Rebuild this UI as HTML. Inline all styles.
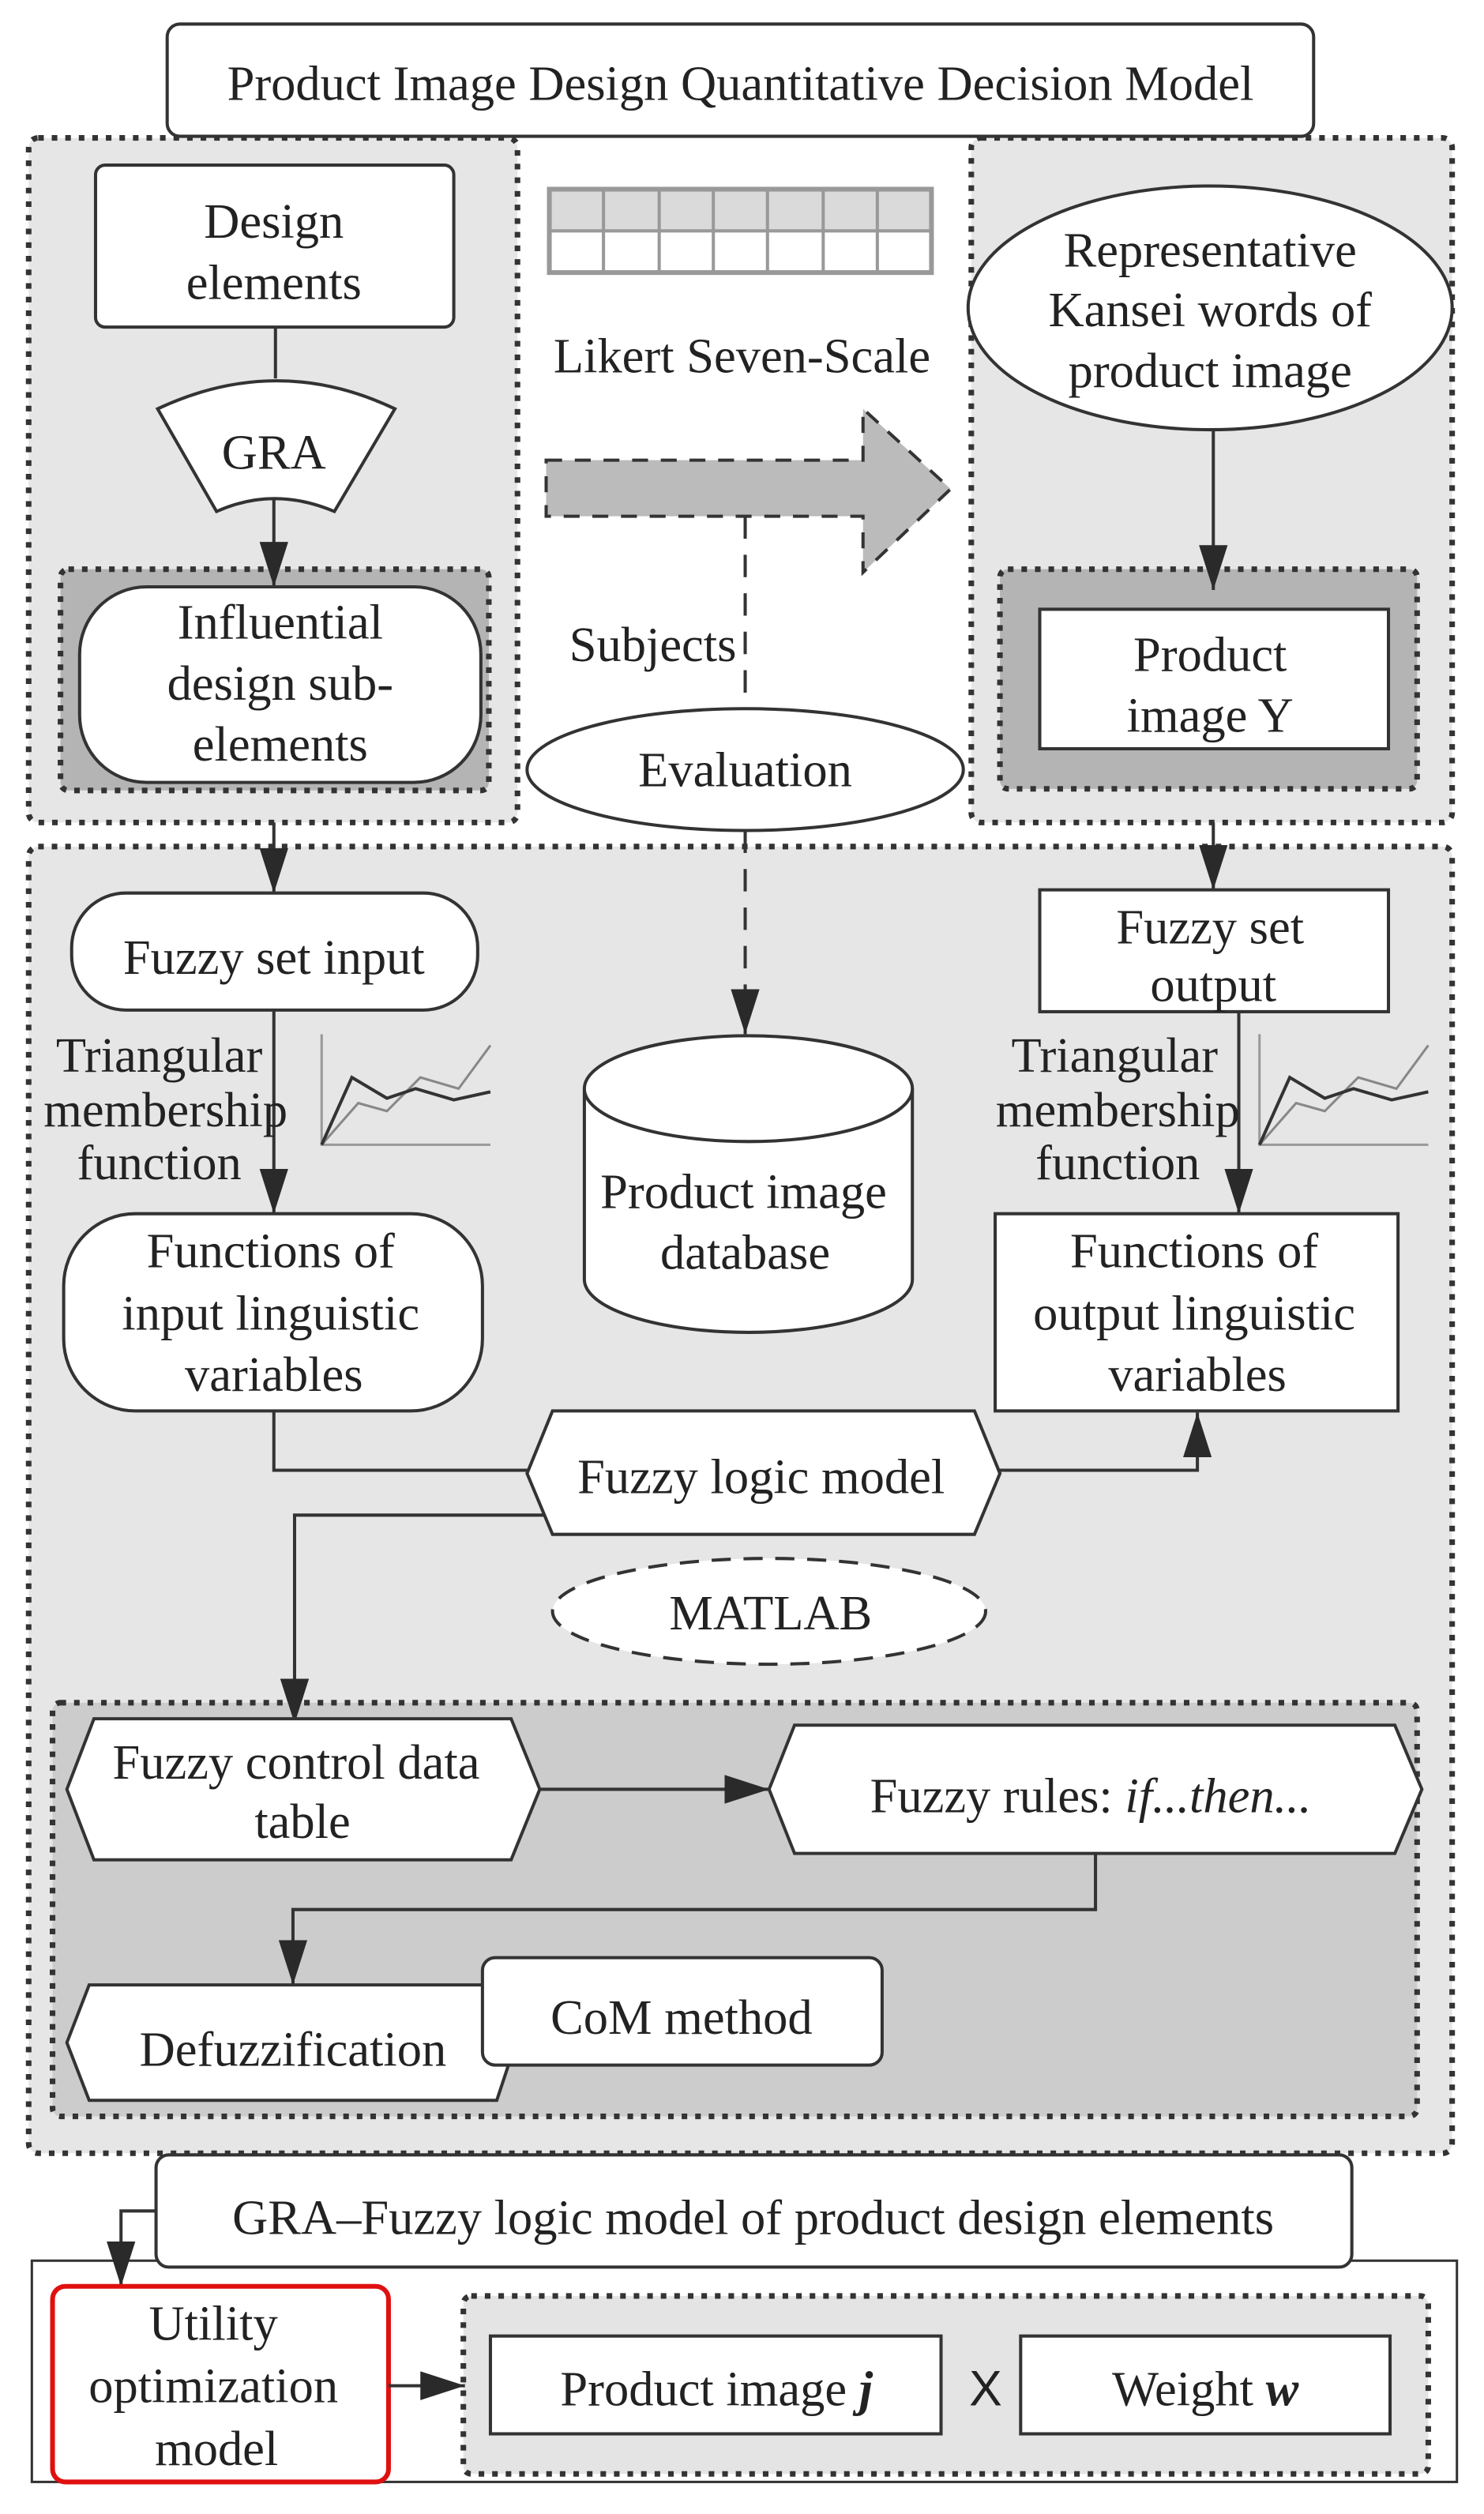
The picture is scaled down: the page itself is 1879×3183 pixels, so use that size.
<!DOCTYPE html>
<html><head><meta charset="utf-8"><style>
html,body{margin:0;padding:0;background:#fff}
svg{display:block}
text{font-family:"Liberation Serif",serif;fill:#222;font-size:31px}
</style></head><body>
<svg width="1879" height="3183" viewBox="0 0 932 1568" preserveAspectRatio="none" xmlns="http://www.w3.org/2000/svg">
<defs>
<marker id="ar" markerUnits="userSpaceOnUse" markerWidth="28" markerHeight="18" refX="28" refY="9" orient="auto" viewBox="0 0 28 18">
<path d="M0,0 L28,9 L0,18 Z" fill="#2a2a2a"/>
</marker>
</defs>
<g stroke="#333" fill="none">
<rect x="18" y="86" width="307" height="427" rx="6" fill="#e6e6e6" stroke-width="3.5" stroke-dasharray="3.5 5"/>
<rect x="610" y="86" width="302" height="427" rx="6" fill="#e6e6e6" stroke-width="3.5" stroke-dasharray="3.5 5"/>
<rect x="105" y="15" width="720" height="70" rx="8" fill="#fff" stroke-width="2"/>
<rect x="60" y="103" width="225" height="101" rx="6" fill="#fff" stroke-width="2"/>
<line x1="173" y1="204" x2="173" y2="236" stroke-width="2"/>
<path d="M99,255 Q174,220 248,255 L210,319 Q172,303 136,319 Z" fill="#fff" stroke-width="2"/>
<rect x="38" y="355" width="269" height="138" rx="5" fill="#b4b4b4" stroke-width="3.5" stroke-dasharray="3.5 5"/>
<line x1="172" y1="311" x2="172" y2="366" stroke-width="2" marker-end="url(#ar)"/>
<rect x="50" y="366" width="252" height="122" rx="42" fill="#fff" stroke-width="2"/>
<ellipse cx="760" cy="192" rx="152" ry="76" fill="#fff" stroke-width="2"/>
<rect x="628" y="355" width="262" height="137" rx="5" fill="#b4b4b4" stroke-width="3.5" stroke-dasharray="3.5 5"/>
<line x1="762" y1="268" x2="762" y2="368" stroke-width="2" marker-end="url(#ar)"/>
<rect x="653" y="380" width="219" height="87" fill="#fff" stroke-width="2"/>
<rect x="345" y="118" width="240" height="26" fill="#dadada" stroke="none"/>
<rect x="345" y="118" width="240" height="52" stroke="#999" stroke-width="3"/>
<line x1="345" y1="144" x2="585" y2="144" stroke="#999" stroke-width="2"/>
<g stroke="#999" stroke-width="2">
<line x1="379" y1="118" x2="379" y2="170"/><line x1="414" y1="118" x2="414" y2="170"/><line x1="448" y1="118" x2="448" y2="170"/><line x1="482" y1="118" x2="482" y2="170"/><line x1="517" y1="118" x2="517" y2="170"/><line x1="551" y1="118" x2="551" y2="170"/>
</g>
<path d="M343,287 L542,287 L542,255 L597,305 L542,357 L542,322 L343,322 Z" fill="#bbb" stroke-width="2" stroke-dasharray="10 8"/>
<line x1="468" y1="322" x2="468" y2="442" stroke-width="2" stroke-dasharray="14 10"/>
<ellipse cx="468" cy="480" rx="137" ry="38" fill="#fff" stroke-width="2"/>
<rect x="18" y="528" width="894" height="815" rx="6" fill="#e6e6e6" stroke-width="3.5" stroke-dasharray="3.5 5"/>
<line x1="172" y1="513" x2="172" y2="557" stroke-width="2" marker-end="url(#ar)"/>
<line x1="762" y1="513" x2="762" y2="555" stroke-width="2" marker-end="url(#ar)"/>
<line x1="468" y1="518" x2="468" y2="645" stroke-width="2" stroke-dasharray="14 10" marker-end="url(#ar)"/>
<rect x="45" y="557" width="255" height="73" rx="34" fill="#fff" stroke-width="2"/>
<rect x="653" y="555" width="219" height="76" fill="#fff" stroke-width="2"/>
<line x1="172" y1="630" x2="172" y2="757" stroke-width="2" marker-end="url(#ar)"/>
<line x1="778" y1="631" x2="778" y2="757" stroke-width="2" marker-end="url(#ar)"/>
<g stroke-width="1.5">
<polyline points="202,645 202,714 308,714" stroke="#999"/>
<polyline points="202,714 225,688 243,693 264,672 288,679 308,652" stroke="#888"/>
<polyline points="202,714 221,672 243,685 261,679 285,686 308,681" stroke="#333" stroke-width="2"/>
<polyline points="791,645 791,714 897,714" stroke="#999"/>
<polyline points="791,714 814,688 832,693 853,672 877,679 897,652" stroke="#888"/>
<polyline points="791,714 810,672 832,685 850,679 874,686 897,681" stroke="#333" stroke-width="2"/>
</g>
<path d="M367,679 L367,798 A103,33 0 0 0 573,798 L573,679" fill="#fff" stroke-width="2"/>
<ellipse cx="470" cy="679" rx="103" ry="33" fill="#fff" stroke-width="2"/>
<rect x="40" y="757" width="263" height="123" rx="45" fill="#fff" stroke-width="2"/>
<rect x="625" y="757" width="253" height="123" fill="#fff" stroke-width="2"/>
<polyline points="172,880 172,917 333,917" stroke-width="2"/>
<polyline points="626,917 752,917 752,881" stroke-width="2" marker-end="url(#ar)"/>
<polyline points="342,945 185,945 185,1075" stroke-width="2" marker-end="url(#ar)"/>
<path d="M331,919 L347,880 L612,880 L628,919 L612,957 L347,957 Z" fill="#fff" stroke-width="2"/>
<ellipse cx="483" cy="1005" rx="136" ry="33" fill="#fff" stroke-width="2" stroke-dasharray="12 8"/>
<rect x="33" y="1062" width="857" height="258" rx="5" fill="#ccc" stroke-width="3.5" stroke-dasharray="3.5 5"/>
<line x1="185" y1="1040" x2="185" y2="1075" stroke-width="2" marker-end="url(#ar)"/>
<path d="M42,1116 L59,1072 L321,1072 L339,1116 L321,1160 L59,1160 Z" fill="#fff" stroke-width="2"/>
<line x1="339" y1="1116" x2="483" y2="1116" stroke-width="2" marker-end="url(#ar)"/>
<path d="M483,1116 L499,1076 L876,1076 L893,1116 L876,1156 L499,1156 Z" fill="#fff" stroke-width="2"/>
<polyline points="688,1156 688,1191 184,1191 184,1238" stroke-width="2" marker-end="url(#ar)"/>
<path d="M42,1274 L56,1238 L310,1238 L324,1274 L312,1310 L56,1310 Z" fill="#fff" stroke-width="2"/>
<rect x="303" y="1221" width="251" height="67" rx="8" fill="#fff" stroke-width="2"/>
<rect x="20" y="1410" width="895" height="138" fill="#fff" stroke-width="1.5"/>
<polyline points="98,1379 76,1379 76,1426" stroke-width="2" marker-end="url(#ar)"/>
<rect x="98" y="1344" width="751" height="70" rx="8" fill="#fff" stroke-width="2"/>
<rect x="291" y="1432" width="606" height="111" rx="5" fill="#e4e4e4" stroke-width="3.5" stroke-dasharray="3.5 5"/>
<rect x="33" y="1426" width="211" height="122" rx="8" fill="#fff" stroke="#e01010" stroke-width="3"/>
<line x1="244" y1="1488" x2="292" y2="1488" stroke-width="2" marker-end="url(#ar)"/>
<rect x="308" y="1457" width="283" height="61" fill="#fff" stroke-width="2"/>
<rect x="641" y="1457" width="232" height="61" fill="#fff" stroke-width="2"/>
</g>
<g text-anchor="middle" dominant-baseline="central">
<text x="465" y="52">Product Image Design Quantitative Decision Model</text>
<text x="172" y="138">Design</text><text x="172" y="176">elements</text>
<text x="172" y="282">GRA</text>
<text x="176" y="388">Influential</text><text x="176" y="426">design sub-</text><text x="176" y="464">elements</text>
<text x="466" y="222" font-size="29">Likert Seven-Scale</text>
<text x="410" y="402" font-size="27">Subjects</text>
<text x="468" y="480">Evaluation</text>
<text x="760" y="156">Representative</text><text x="760" y="193">Kansei words of</text><text x="760" y="231">product image</text>
<text x="760" y="408">Product</text><text x="760" y="446">image Y</text>
<text x="172" y="597">Fuzzy set input</text>
<text x="760" y="578">Fuzzy set</text><text x="762" y="614">output</text>
<g font-size="23"><text x="100" y="658">Triangular</text><text x="104" y="692">membership</text><text x="100" y="725">function</text>
<text x="700" y="658">Triangular</text><text x="702" y="692">membership</text><text x="702" y="725">function</text></g>
<text x="467" y="743">Product image</text><text x="468" y="781">database</text>
<text x="170" y="780">Functions of</text><text x="170" y="819">input linguistic</text><text x="172" y="857">variables</text>
<text x="750" y="780">Functions of</text><text x="750" y="819">output linguistic</text><text x="752" y="857">variables</text>
<text x="478" y="921">Fuzzy logic model</text>
<text x="484" y="1006">MATLAB</text>
<text x="186" y="1099">Fuzzy control data</text><text x="190" y="1136">table</text>
<text x="685" y="1120">Fuzzy rules: <tspan font-style="italic">if...then...</tspan></text>
<text x="184" y="1278">Defuzzification</text>
<text x="428" y="1258">CoM method</text>
<text x="473" y="1383">GRA–Fuzzy logic model of product design elements</text>
<text x="134" y="1449">Utility</text><text x="134" y="1488">optimization</text><text x="136" y="1527">model</text>
<text x="450" y="1490">Product image <tspan font-style="italic" font-weight="bold">j</tspan></text>
<text x="619" y="1490" style="font-family:'Liberation Sans',sans-serif" font-size="29">X</text>
<text x="757" y="1490">Weight <tspan font-style="italic" font-weight="bold">w</tspan></text>
</g>
</svg>
</body></html>
